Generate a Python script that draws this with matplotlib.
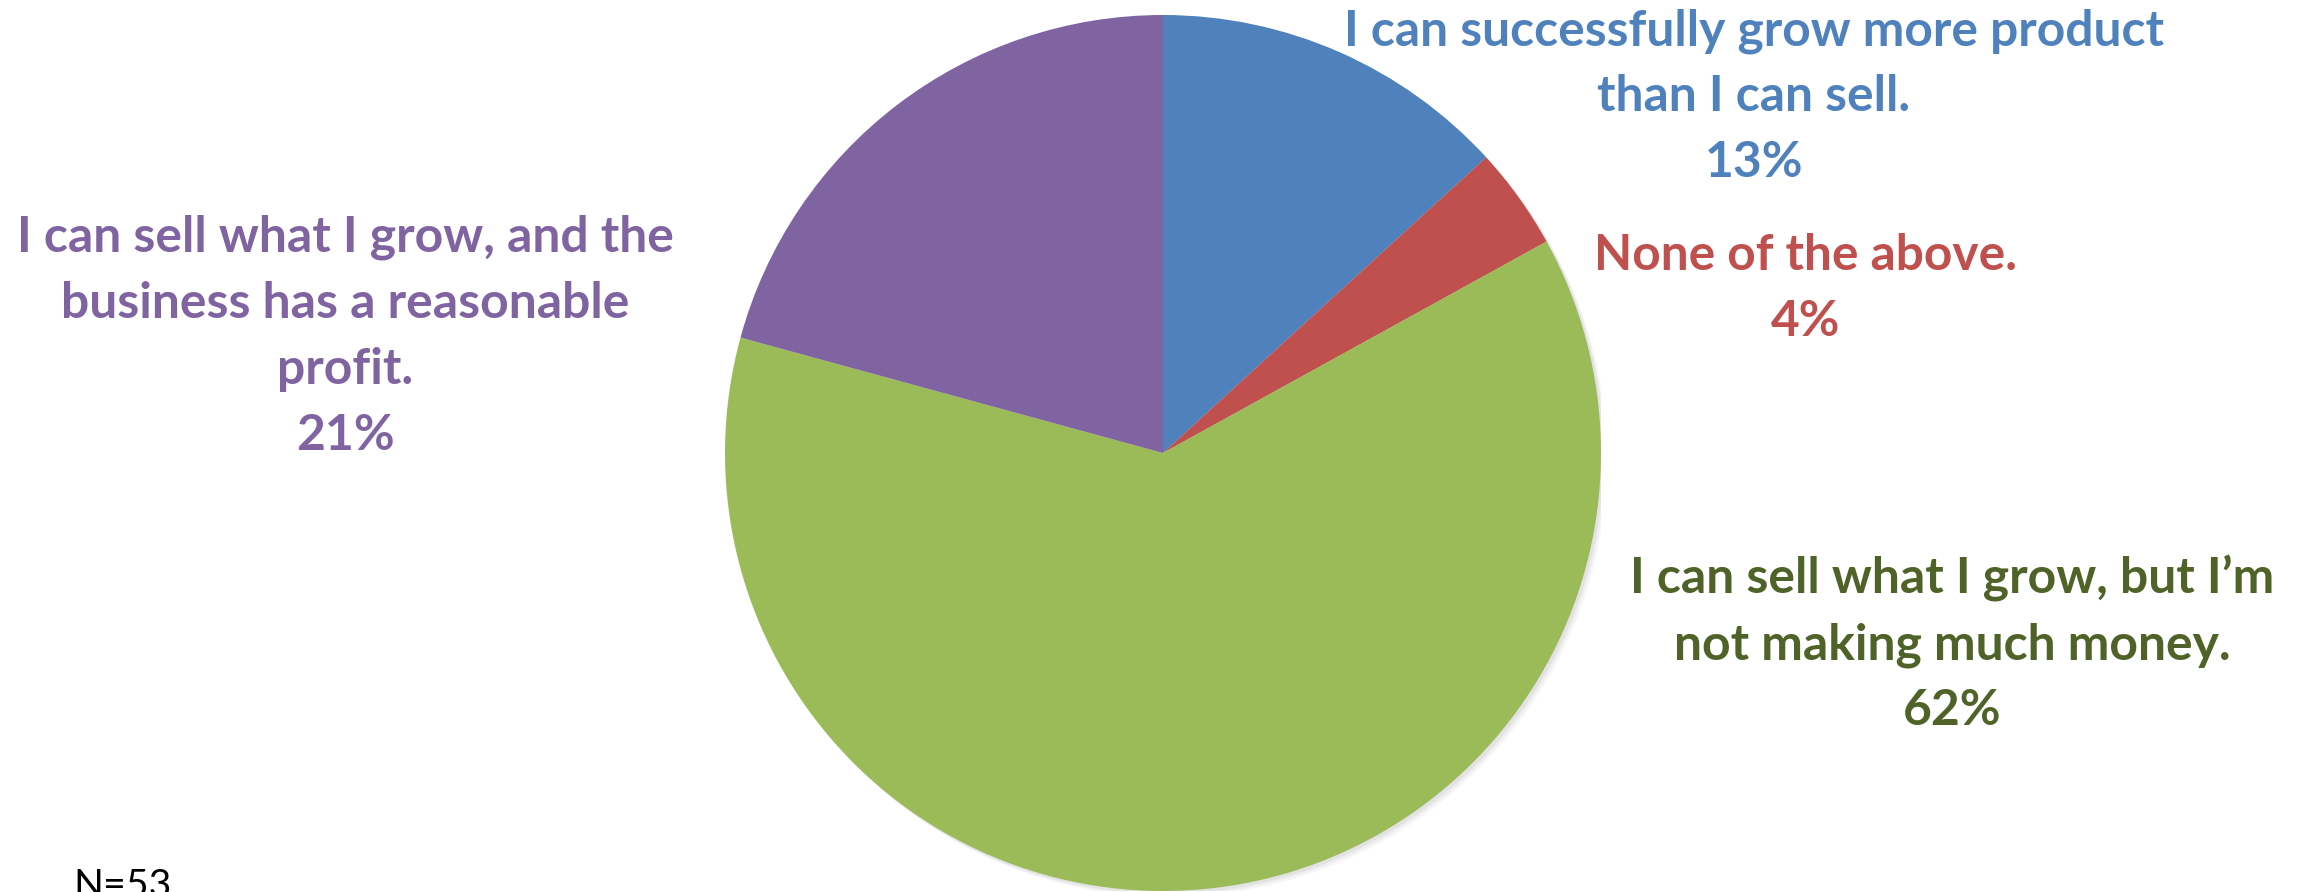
import matplotlib
matplotlib.use("Agg")
import matplotlib.pyplot as plt
from matplotlib.patches import Circle

# ---- data ----
categories = [
    "I can successfully grow more product\nthan I can sell.",
    "None of the above.",
    "I can sell what I grow, but I\u2019m\nnot making much money.",
    "I can sell what I grow, and the\nbusiness has a reasonable\nprofit.",
]
counts = [7, 2, 33, 11]
pct_labels = ["13%", "4%", "62%", "21%"]
slice_colors = ["#4F81BD", "#C0504D", "#9BBB59", "#8064A2"]
text_colors = ["#4F81BD", "#C0504D", "#4F6228", "#8064A2"]
n_label = "N=53"

W, H = 2297, 892
DPI = 100
fig = plt.figure(figsize=(W / DPI, H / DPI), dpi=DPI)
fig.patch.set_facecolor("white")

# pie axes (pixel geometry)
cx, cy, r = 1163, 453, 438
ax = fig.add_axes([(cx - r) / W, (H - cy - r) / H, 2 * r / W, 2 * r / H])
ax.set_xlim(-1, 1)
ax.set_ylim(-1, 1)
ax.set_aspect("equal")
ax.axis("off")

# soft shadow
for i, a in enumerate([0.10, 0.08, 0.06]):
    ax.add_patch(Circle((0.006 + 0.004 * i, -0.006 - 0.004 * i), 1.0, color="#808080",
                        alpha=a, lw=0, zorder=0))

ax.pie(counts, colors=slice_colors, startangle=90, counterclock=False, radius=1.0,
       wedgeprops=dict(linewidth=0), center=(0, 0), frame=False)
ax.set_xlim(-1, 1)
ax.set_ylim(-1, 1)

FONT = ["Lato", "DejaVu Sans"]

# label layout: (center x px, first baseline y px, target width px for widest line)
layouts = [
    (1754, 45, 819),
    (1806, 270, 423),
    (1952, 593, 645),
    (345, 252, 657),
]
line_gap = 66

renderer = fig.canvas.get_renderer()


def width_at(txt, size, weight="bold"):
    t = fig.text(0, 0, txt, fontsize=size, fontweight=weight, family=FONT)
    bb = t.get_window_extent(renderer=renderer)
    t.remove()
    return bb.width


for cat, pct, col, (x, y0, tw) in zip(categories, pct_labels, text_colors, layouts):
    lines = cat.split("\n") + [pct]
    widest = max(lines[:-1], key=lambda s: width_at(s, 20))
    size = 20 * tw / width_at(widest, 20)
    for i, line in enumerate(lines):
        fig.text(x / W, 1 - (y0 + i * line_gap) / H, line, fontsize=size,
                 fontweight="bold", family=FONT, color=col, ha="center",
                 va="baseline")

n_size = 20 * 98 / width_at(n_label, 20, "normal")
fig.text(73 / W, 1 - 868 / H, n_label, fontsize=n_size, family=FONT, color="black",
         ha="left", va="top")

fig.savefig("out.png", dpi=DPI, facecolor="white")
